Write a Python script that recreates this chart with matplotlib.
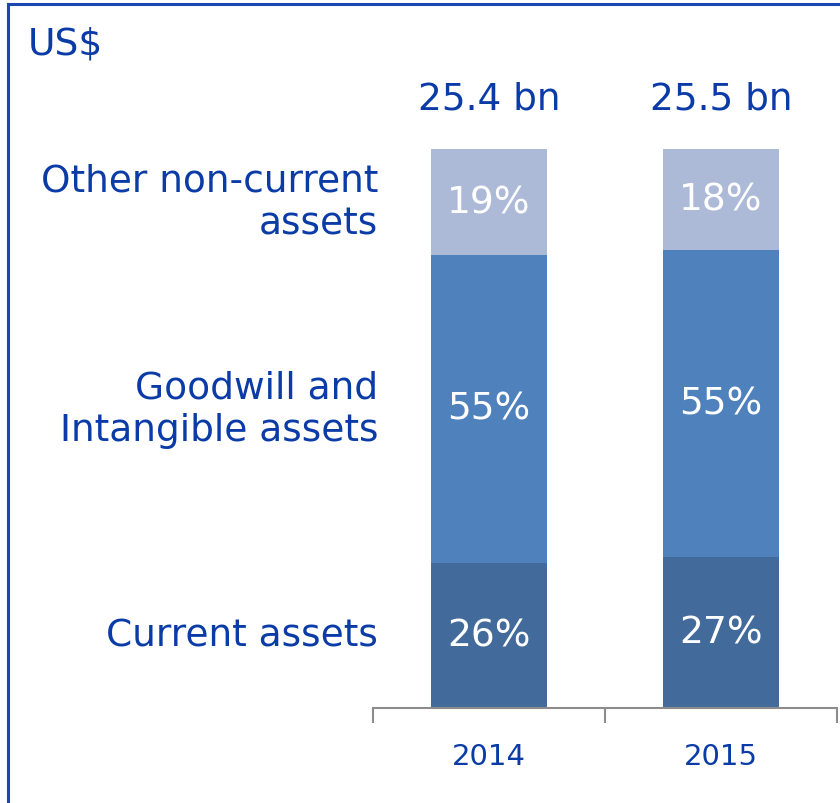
import matplotlib
matplotlib.use("Agg")
from matplotlib import pyplot as plt
from matplotlib.lines import Line2D
import numpy as np

years = ['2014', '2015']
totals = ['25.4 bn', '25.5 bn']
segment_names = ['Current assets', 'Goodwill and\nIntangible assets', 'Other non-current\nassets']
current_assets = [26, 27]
goodwill_intangible = [55, 55]
other_non_current = [19, 18]

seg_values = [current_assets, goodwill_intangible, other_non_current]
seg_colors = ['#426B9C', '#4F81BD', '#ACBAD8']
text_blue = '#0A3BA6'

plt.rcParams['font.family'] = ['DejaVu Sans']

fig = plt.figure(figsize=(8.4, 8.04), dpi=100)
ax = fig.add_axes([373 / 840, 1 - 709 / 804, 464 / 840, 559 / 804])

x = np.arange(len(years))
bottom = np.zeros(len(years))
for vals, col in zip(seg_values, seg_colors):
    vals = np.array(vals, dtype=float)
    ax.bar(x, vals, width=0.5, bottom=bottom, color=col, zorder=2)
    for xi, b, v in zip(x, bottom, vals):
        ax.text(xi, b + v / 2, '{:d}%'.format(int(v)), ha='center', va='center',
                color='white', fontsize=27)
    bottom = bottom + vals

# segment names on the left, next to the first bar
b0 = 0
for name, vals in zip(segment_names, seg_values):
    ax.text(-0.5 + 5 / 232, b0 + vals[0] / 2, name, ha='right', va='center',
            color=text_blue, fontsize=27, linespacing=1.25)
    b0 += vals[0]

# totals above the bars
for xi, t in zip(x, totals):
    ax.text(xi, 109, t, ha='center', va='center', color=text_blue, fontsize=27)

ax.set_xlim(-0.5, 1.5)
ax.set_ylim(0, 100)
ax.set_yticks([])
ax.set_xticks([-0.5, 0.5, 1.5])
ax.set_xticklabels([])
ax.tick_params(axis='x', direction='out', length=11, width=1.5, color='#8C8C8C')
for side in ['top', 'right', 'left']:
    ax.spines[side].set_visible(False)
ax.spines['bottom'].set_color('#8C8C8C')
ax.spines['bottom'].set_linewidth(1.5)

trans = ax.get_xaxis_transform()
for xi, yr in zip(x, years):
    ax.text(xi, -0.086, yr, transform=trans, ha='center', va='center',
            color=text_blue, fontsize=21)

fig.text(28 / 840, 1 - 45 / 804, 'US$', ha='left', va='center', color=text_blue, fontsize=27)

# frame (left and top edges only)
fig.add_artist(Line2D([8 / 840, 8 / 840], [0, 1 - 5 / 804], transform=fig.transFigure,
                      color='#1A47B0', linewidth=2.2))
fig.add_artist(Line2D([8 / 840, 1], [1 - 5 / 804, 1 - 5 / 804], transform=fig.transFigure,
                      color='#1A47B0', linewidth=2.2))

fig.savefig('out.png', dpi=100)
